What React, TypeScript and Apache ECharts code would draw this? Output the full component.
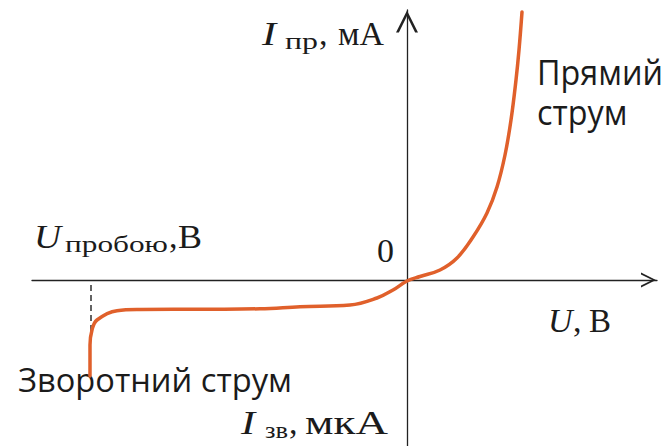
import React, { useEffect, useRef } from "react";
import * as echarts from "echarts";

// Reverse branch: from the breakdown knee up to the origin (U in V, I in µA, arbitrary scale)
const reverseU = [-31.7, -31.7, -31.5, -31.0, -29.0, -26.7, -20.0, -14.7, -10.7, -5.7, -3.0, -1.4, 0];
const reverseI = [-9.6, -6.5, -5.0, -4.0, -3.07, -2.95, -2.92, -2.88, -2.67, -2.5, -1.8, -1.0, -0.1];

// Forward branch: from the origin up the exponential rise (I in mA, arbitrary scale)
const forwardU = [1.3, 3.3, 5.0, 6.6, 8.0, 9.0, 9.8, 10.4, 10.9, 11.2, 11.5];
const forwardI = [0.35, 1.0, 2.2, 4.3, 6.7, 9.3, 12.5, 16.0, 20.0, 23.0, 26.8];

// Breakdown voltage marker (dashed guide)
const breakdownU = -31.6;
const breakdownGuideI = [-0.5, -5.3];

// Axis extents
const uRange = [-37.5, 25];
const iRange = [-16.6, 27];

const SERIF = '"Liberation Serif", "DejaVu Serif", serif';
const SANS = '"Open Sans", "Noto Sans", sans-serif';
const INK = "#1b1b1b";
const CURVE = "#E0602B";
const AXIS = "#222222";

// Open chevron arrow, tip pointing up in its own frame
const CHEVRON = "path://M0,20L10,0L20,20L17.4,20L10,5L2.6,20Z";

let measureCtx: CanvasRenderingContext2D | null = null;
function textWidth(text: string, font: string) {
  if (!measureCtx) measureCtx = document.createElement("canvas").getContext("2d");
  if (!measureCtx) return 1;
  measureCtx.font = font;
  return Math.max(...text.split("\n").map((l) => measureCtx!.measureText(l).width));
}

type LabelOpts = {
  italic?: boolean;
  family?: string;
  right?: number; // stretch horizontally so the text ends here
  scale?: number;
  align?: string;
  lineHeight?: number;
};

// Places a text by its left edge and the baseline of its first line
function label(text: string, left: number, baseline: number, size: number, opts: LabelOpts = {}) {
  const family = opts.family ?? SERIF;
  const fontStyle = opts.italic ? "italic" : "normal";
  const k = family === SANS ? 0.39 : 0.34;
  const lines = text.split("\n").length;
  const lh = opts.lineHeight ?? size;
  let scaleX = opts.scale ?? 1;
  if (opts.right != null) {
    const w = textWidth(text, `${fontStyle} ${size}px ${family}`);
    scaleX = (opts.right - left) / w;
  }
  const align = opts.align ?? "left";
  return {
    type: "text",
    x: left,
    y: baseline - k * size + (lh * (lines - 1)) / 2,
    scaleX,
    silent: true,
    style: {
      text,
      fontFamily: family,
      fontSize: size,
      fontStyle,
      lineHeight: lh,
      fill: INK,
      align,
      textAlign: align,
      verticalAlign: "middle",
      textVerticalAlign: "middle",
    },
  };
}

export default function App() {
  const ref = useRef<HTMLDivElement>(null);

  useEffect(() => {
    if (!ref.current) return;
    const chart = echarts.init(ref.current, null, { renderer: "svg" });

    const curve = [
      ...reverseU.map((u, i) => [u, reverseI[i]]),
      ...forwardU.map((u, i) => [u, forwardI[i]]),
    ];
    const guide = breakdownGuideI.map((v) => [breakdownU, v]);

    chart.setOption({
      animation: false,
      backgroundColor: "#ffffff",
      grid: { left: 32, right: 14, top: 10, bottom: 0, containLabel: false },
      xAxis: {
        type: "value",
        min: uRange[0],
        max: uRange[1],
        axisLine: {
          onZero: true,
          symbol: ["none", CHEVRON],
          symbolSize: [15, 17],
          symbolOffset: [0, -8.5],
          lineStyle: { color: AXIS, width: 1.3 },
        },
        axisTick: { show: false },
        axisLabel: { show: false },
        splitLine: { show: false },
      },
      yAxis: {
        type: "value",
        min: iRange[0],
        max: iRange[1],
        axisLine: {
          onZero: true,
          symbol: ["none", CHEVRON],
          symbolSize: [22, 23],
          symbolOffset: [0, -11.5],
          lineStyle: { color: AXIS, width: 1.3 },
        },
        axisTick: { show: false },
        axisLabel: { show: false },
        splitLine: { show: false },
      },
      series: [
        {
          type: "line",
          data: guide,
          showSymbol: false,
          silent: true,
          z: 1,
          lineStyle: { color: AXIS, width: 1.4, type: [6, 4] },
        },
        {
          type: "line",
          data: curve,
          smooth: 0.4,
          showSymbol: false,
          silent: true,
          z: 3,
          lineStyle: { color: CURVE, width: 3.5, cap: "round", join: "round" },
        },
      ],
      graphic: [
        // I_пр, мА
        label("I", 262, 45, 34, { italic: true, scale: 1.25 }),
        label("пр", 285, 49, 24, { right: 318 }),
        label(",", 319, 45, 34),
        label("мА", 338, 45, 34, { right: 384 }),
        // U_пробою, В
        label("U", 34, 248, 34, { italic: true, scale: 1.1 }),
        label("пробою", 65, 252, 24, { right: 168 }),
        label(",", 169, 248, 34),
        label("В", 178, 248, 34, { right: 202 }),
        // origin
        label("0", 377, 262, 34, { right: 394 }),
        // U, В
        label("U", 548, 332, 34, { italic: true }),
        label(",", 573, 332, 34),
        label("В", 589, 332, 34, { right: 611 }),
        // I_зв, мкА
        label("I", 241, 434, 34, { italic: true, scale: 1.25 }),
        label("зв", 265, 438, 24, { right: 288 }),
        label(",", 289, 434, 34),
        label("мкА", 305, 434, 34, { right: 388 }),
        // branch captions
        label("Прямий\nструм", 537, 85, 34, { family: SANS, right: 663, lineHeight: 40 }),
        label("Зворотний струм", 18, 392, 33, { family: SANS, right: 292 }),
      ],
    });

    return () => chart.dispose();
  }, []);

  return (
    <div
      ref={ref}
      style={{ position: "fixed", left: 0, top: 0, width: 671, height: 446, background: "#fff" }}
    />
  );
}
